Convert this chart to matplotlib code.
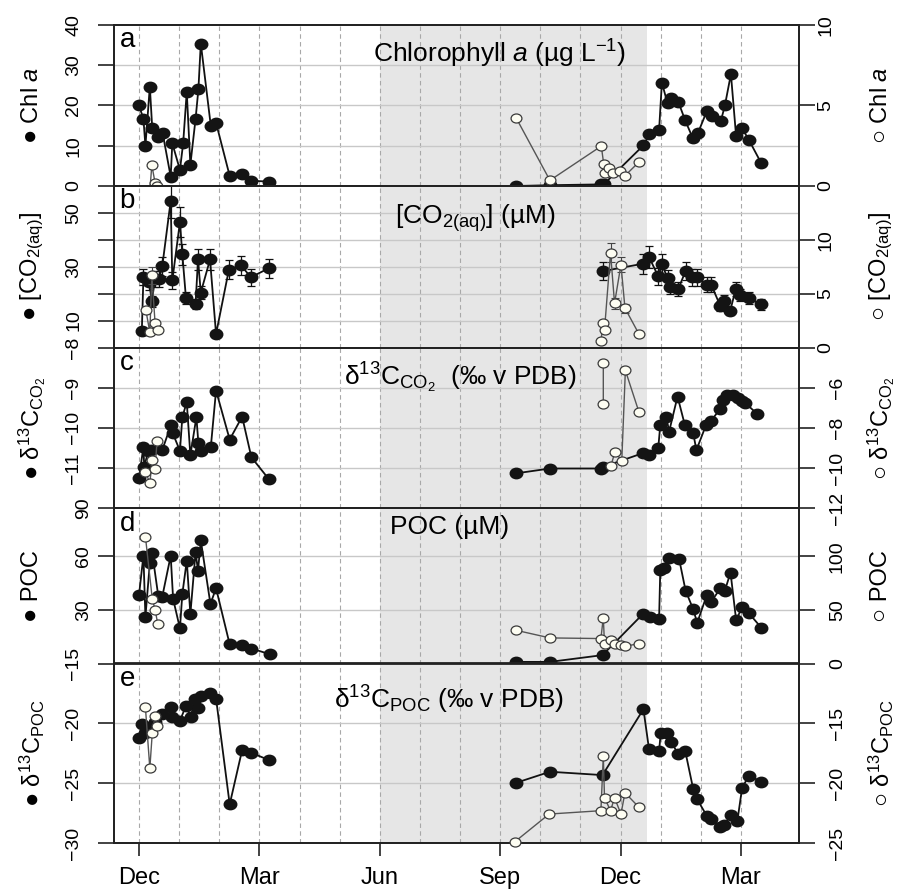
import numpy as np
import matplotlib.pyplot as plt
from matplotlib.path import Path
from matplotlib.transforms import Affine2D

nan = np.nan

plt.rcParams['font.family'] = ['Liberation Sans', 'DejaVu Sans']
plt.rcParams['mathtext.fontset'] = 'custom'
plt.rcParams['mathtext.rm'] = 'Liberation Sans'
plt.rcParams['mathtext.it'] = 'Liberation Sans:italic'
plt.rcParams['mathtext.bf'] = 'Liberation Sans:bold'
plt.rcParams['mathtext.default'] = 'regular'

# time is in months after 1 Dec of the first season
month_ticks = [0, 3, 6, 9, 12, 15]
month_labels = ['Dec', 'Mar', 'Jun', 'Sep', 'Dec', 'Mar']
ice_start, ice_end = 6.0, 12.65

# a: chlorophyll a (filled = left axis, open = right axis)
chl_t = [0.00, 0.11, 0.16, 0.27, 0.33, 0.48, 0.59, 0.79, 0.83, 1.02, 1.10, 1.19, 1.28, 1.41, 1.48,
         1.54, 1.79, 1.92, 2.26, 2.57, 2.80, 3.24, nan,
         9.40, 10.24, 11.52, 11.59, 12.57, 12.72, 12.96, 13.03, 13.17, 13.26, 13.44, 13.61, 13.80,
         13.93, 14.15, 14.29, 14.50, 14.60, 14.75, 14.88, 15.02, 15.20, 15.51]
chl = [20.0, 16.7, 10.0, 24.7, 14.3, 12.1, 13.1, 2.3, 10.6, 4.0, 10.6, 23.4, 5.3, 16.7, 24.0,
       35.4, 14.9, 15.7, 2.5, 2.9, 1.3, 1.1, nan,
       0.0, 0.2, 0.4, 0.5, 10.1, 12.9, 13.9, 25.7, 20.5, 21.9, 20.9, 16.3, 11.9,
       13.2, 18.6, 17.4, 16.2, 20.0, 27.8, 12.3, 14.5, 11.4, 5.6]
chl_o_t = [0.16, 0.27, 0.32, 0.40, 0.46, nan,
           9.40, 10.24, 11.52, 11.58, 11.60, 11.72, 11.82, 11.98, 12.11, 12.46]
chl_o = [-0.25, -0.3, 1.3, 0.2, 0.0, nan,
         4.22, 0.35, 2.48, 1.37, 0.79, 1.1, 0.79, 0.95, 0.64, 1.49]

# b: [CO2(aq)] with error bars
co2_t = [0.07, 0.11, 0.25, 0.32, 0.40, 0.50, 0.58, 0.79, 0.83, 1.02, 1.08, 1.17, 1.41, 1.47, 1.54,
         1.77, 1.92, 2.24, 2.54, 2.79, 3.24, nan,
         11.57, 12.55, 12.71, 12.94, 13.03, 13.17, 13.22, 13.44, 13.62, 13.79, 13.91, 14.15, 14.26,
         14.49, 14.58, 14.73, 14.87, 14.98, 15.19, 15.51]
co2 = [6.0, 26.1, 24.3, 17.2, 25.5, 25.5, 30.2, 54.5, 24.9, 46.6, 34.6, 18.4, 16.2, 32.7, 20.4,
       32.7, 5.0, 28.9, 30.5, 26.1, 29.5, nan,
       28.4, 31.1, 33.6, 26.4, 30.9, 25.8, 22.4, 21.8, 28.4, 26.1, 26.1, 23.3, 23.3,
       15.3, 17.4, 13.5, 21.7, 19.6, 18.3, 16.0]
co2_err = [0.8, 3.0, 3.0, 2.0, 3.0, 3.0, 3.5, 6.5, 3.0, 5.6, 4.0, 2.2, 2.0, 3.9, 2.4,
           3.9, 0.6, 3.5, 3.4, 3.1, 3.5, nan,
           3.3, 3.7, 4.0, 3.2, 3.7, 3.1, 2.7, 2.6, 3.4, 3.1, 3.1, 2.8, 2.8,
           1.8, 2.1, 1.6, 2.6, 2.3, 2.2, 1.9]
co2_o_t = [0.17, 0.27, 0.32, 0.40, 0.47, nan,
           11.51, 11.57, 11.60, 11.75, 11.85, 12.01, 12.11, 12.46]
co2_o = [3.5, 1.4, 6.7, 2.3, 1.6, nan,
         0.62, 2.26, 1.64, 8.8, 4.1, 7.7, 3.65, 1.24]
co2_o_err = [0.4, 0.2, 0.8, 0.3, 0.2, nan,
             0.1, 0.3, 0.2, 0.9, 0.5, 0.7, 0.4, 0.15]

# c: d13C of CO2
dco2_t = [0.00, 0.11, 0.13, 0.23, 0.31, 0.58, 0.80, 0.84, 1.02, 1.08, 1.19, 1.28, 1.43, 1.48, 1.55,
          1.79, 1.92, 2.26, 2.57, 2.80, 3.24, nan,
          9.40, 10.24, 11.51, 11.57, 12.55, 12.71, 12.94, 12.99, 13.14, 13.21, 13.42, 13.60, 13.81,
          13.89, 14.13, 14.25, 14.48, 14.56, 14.66, 14.80, 14.93, 15.03, 15.11, 15.40]
dco2 = [-11.25, -10.47, -10.97, -10.57, -10.55, -10.55, -9.92, -10.13, -10.57, -9.73, -9.36, -10.68,
        -9.73, -10.38, -10.57, -10.47, -9.07, -10.29, -9.72, -10.73, -11.28, nan,
        -11.13, -11.01, -11.01, -10.97, -10.63, -10.68, -10.49, -9.93, -9.73, -10.09, -9.22, -9.92,
        -10.13, -10.55, -9.93, -9.83, -9.53, -9.30, -9.19, -9.17, -9.25, -9.32, -9.38, -9.65]
dco2_o_t = [0.16, 0.27, 0.33, 0.40, 0.45, nan,
            11.57, 11.57, nan, 11.76, 11.86, 12.03, 12.12, 12.46]
dco2_o = [-10.17, -10.75, -9.59, -10.05, -8.64, nan,
          -4.77, -6.8, nan, -9.89, -9.19, -9.64, -5.14, -7.22]

# d: POC
poc_t = [0.00, 0.11, 0.16, 0.27, 0.33, 0.48, 0.58, 0.79, 0.85, 1.02, 1.08, 1.19, 1.28, 1.41, 1.47,
         1.54, 1.78, 1.92, 2.26, 2.57, 2.80, 3.26, nan,
         9.40, 10.24, 11.55, 12.55, 12.74, 12.96, 12.99, 13.08, 13.21, 13.46, 13.62, 13.81, 13.91,
         14.15, 14.26, 14.49, 14.60, 14.74, 14.88, 15.03, 15.20, 15.51]
poc = [38.4, 60.4, 26.2, 56.3, 61.9, 37.9, 37.5, 60.4, 36.2, 19.7, 39.0, 57.6, 27.7, 62.5, 51.9,
       69.0, 33.4, 42.2, 10.7, 10.3, 8.4, 5.2, nan,
       0.9, 0.9, 4.7, 27.6, 25.9, 24.9, 52.5, 53.8, 59.1, 58.5, 40.9, 30.4, 22.8,
       38.4, 34.7, 42.2, 40.9, 51.0, 24.4, 31.5, 28.1, 20.0]
poc_o_t = [0.16, 0.33, 0.40, 0.47, nan,
           9.40, 10.24, 11.51, 11.57, 11.60, 11.75, 11.85, 12.01, 12.11, 12.46]
poc_o = [118.6, 60.6, 50.3, 36.6, nan,
         31.0, 23.9, 23.3, 42.9, 18.0, 21.7, 18.6, 17.1, 16.1, 18.6]

# e: d13C of POC
dpoc_t = [0.00, 0.08, 0.16, 0.27, 0.40, 0.58, 0.80, 0.83, 1.02, 1.17, 1.29, 1.39, 1.48, 1.54,
          1.78, 1.92, 2.26, 2.57, 2.80, 3.24, nan,
          9.40, 10.24, 11.55, 12.57, 12.71, 12.96, 13.00, 13.15, 13.26, 13.44, 13.61, 13.81, 13.91,
          14.15, 14.26, 14.48, 14.59, 14.74, 14.91, 15.03, 15.20, 15.51]
dpoc = [-21.25, -20.06, -20.83, -20.28, -19.86, -19.22, -18.67, -19.5, -19.78, -18.53, -19.45,
        -18.0, -18.75, -17.7, -17.5, -17.92, -26.75, -22.22, -22.45, -23.06, nan,
        -24.95, -24.03, -24.31, -18.81, -22.17, -22.31, -20.83, -20.83, -21.53, -22.58, -22.28,
        -25.47, -26.33, -27.72, -28.0, -28.67, -28.47, -27.64, -28.14, -25.36, -24.36, -24.86]
dpoc_o_t = [0.16, 0.27, 0.33, 0.40, 0.44, nan,
            9.37, 10.22, 11.51, 11.57, 11.60, 11.75, 11.85, 12.01, 12.11, 12.46]
dpoc_o = [-13.67, -18.75, -15.83, -14.39, -15.22, nan,
          -24.86, -22.56, -22.28, -17.73, -21.2, -22.28, -21.2, -22.56, -20.78, -22.0]

# ---- layout (pixel positions of the original) ----
W, H = 907, 889
edges = [25, 186, 347.5, 508.3, 663.5, 843.3]
xl, xr, x_dec = 114, 799, 139
ppm = 40.13  # pixels per month
xlim = ((xl - x_dec) / ppm, (xr - x_dec) / ppm)

oval = Path.unit_circle().transformed(Affine2D().scale(1.2, 1.0))

panels = [
    dict(letter='a', t=chl_t, v=chl, to=chl_o_t, vo=chl_o,
         ylim=(0, 40), yt=[0, 10, 20, 30, 40], ytl=['0', '10', '20', '30', '40'], grid=[10, 20, 30],
         ylim2=(0, 10), yt2=[0, 5, 10], lpad=11.5, rpad=1.5,
         title=r'Chlorophyll $\mathit{a}$ (µg L$^{-1}$)', tx=0.563, ty=0.82,
         lab=r'Chl $\mathit{a}$'),
    dict(letter='b', t=co2_t, v=co2, err=co2_err, to=co2_o_t, vo=co2_o, erro=co2_o_err,
         ylim=(0, 60), yt=[10, 20, 30, 40, 50], ytl=['10', '', '30', '', '50'], grid=[10, 20, 30, 40, 50],
         ylim2=(0, 15), yt2=[0, 5, 10], lpad=11.5, rpad=1.5,
         title=r'[CO$_{2(aq)}$] (µM)', tx=0.527, ty=0.80,
         lab=r'[CO$_{2(aq)}$]'),
    dict(letter='c', t=dco2_t, v=dco2, to=dco2_o_t, vo=dco2_o,
         ylim=(-12, -8), yt=[-11, -10, -9, -8], ytl=['−11', '−10', '−9', '−8'], grid=[-11, -10, -9],
         ylim2=(-12, -4), yt2=[-12, -10, -8, -6], lpad=11.5, rpad=10,
         title=r'δ$^{13}$C$_{CO_2}$  (‰ v PDB)', tx=0.505, ty=0.81,
         lab=r'δ$^{13}$C$_{CO_2}$'),
    dict(letter='d', t=poc_t, v=poc, to=poc_o_t, vo=poc_o,
         ylim=(0, 87), yt=[30, 60, 87], ytl=['30', '60', '90'], grid=[30, 60],
         ylim2=(0, 145), yt2=[0, 50, 100], lpad=4, rpad=10,
         title='POC (µM)', tx=0.49, ty=0.88,
         lab='POC'),
    dict(letter='e', t=dpoc_t, v=dpoc, to=dpoc_o_t, vo=dpoc_o,
         ylim=(-30, -15), yt=[-30, -25, -20, -15], ytl=['−30', '−25', '−20', '−15'], grid=[-25, -20],
         ylim2=(-25, -10), yt2=[-25, -20, -15], lpad=11.5, rpad=10,
         title=r'δ$^{13}$C$_{POC}$ (‰ v PDB)', tx=0.489, ty=0.80,
         lab=r'δ$^{13}$C$_{POC}$'),
]

fig = plt.figure(figsize=(W / 100, H / 100), dpi=100)
spine_col = '#222222'

for i, p in enumerate(panels):
    top, bot = edges[i], edges[i + 1]
    ax = fig.add_axes([xl / W, 1 - bot / H, (xr - xl) / W, (bot - top) / H])
    ax.set_xlim(*xlim)
    ax.set_ylim(*p['ylim'])

    ax.axvspan(ice_start, ice_end, color='#e6e6e6', lw=0, zorder=0)
    for m in range(0, 16):
        ax.axvline(m, color='#a8a8a8', lw=0.8, ls=(0, (4, 3)), zorder=1)
    for g in p['grid']:
        ax.axhline(g, color='#c8c8c8', lw=1.0, zorder=1)

    if 'err' in p:
        ax.errorbar(p['t'], p['v'], yerr=p['err'], fmt='none', ecolor='#111111',
                    elinewidth=0.9, capsize=3, capthick=0.9, zorder=2)
    ax.plot(p['t'], p['v'], color='#111111', lw=1.3, marker=oval, ms=9,
            mfc='#141414', mec='#141414', zorder=3, clip_on=False)

    ax2 = ax.twinx()
    ax2.set_ylim(*p['ylim2'])
    if 'erro' in p:
        ax2.errorbar(p['to'], p['vo'], yerr=p['erro'], fmt='none', ecolor='#444444',
                     elinewidth=0.8, capsize=3, capthick=0.8, zorder=2)
    ax2.plot(p['to'], p['vo'], color='#555555', lw=1.0, marker=oval, ms=7.8,
             mfc='#fdfdf2', mec='#3a3a3a', mew=0.9, zorder=3, clip_on=False)

    for a in (ax, ax2):
        for s in a.spines.values():
            s.set_color(spine_col)
            s.set_linewidth(1.3)

    ax.set_yticks(p['yt'], p['ytl'])
    ax.tick_params(axis='y', direction='out', length=11.5, width=1.2, color=spine_col,
                   labelsize=14, pad=p['lpad'])
    plt.setp(ax.get_yticklabels(), rotation=90, va='center', ha='right')

    ax2.set_yticks(p['yt2'], [str(v).replace('-', '−') for v in p['yt2']])
    ax2.tick_params(axis='y', direction='out', length=11.5, width=1.2, color=spine_col,
                    labelsize=14, pad=p['rpad'])
    plt.setp(ax2.get_yticklabels(), rotation=90, va='center', ha='left')

    if i < len(panels) - 1:
        ax.tick_params(axis='x', bottom=False, labelbottom=False)
    else:
        ax.set_xticks(month_ticks, month_labels)
        ax.tick_params(axis='x', direction='out', length=9, width=1.2, color=spine_col,
                       labelsize=17, pad=8)

    ax.text(0.008, 0.985, p['letter'], transform=ax.transAxes, ha='left', va='top',
            fontsize=20, zorder=5)
    ax.text(p['tx'], p['ty'], p['title'], transform=ax.transAxes, ha='center', va='center',
            fontsize=19, zorder=5)

    yc = 1 - (top + bot) / 2 / H
    fig.text(32 / W, yc, '● ' + p['lab'], rotation=90, ha='center', va='center', fontsize=17)
    fig.text(881 / W, yc, '○ ' + p['lab'], rotation=90, ha='center', va='center', fontsize=17)

fig.savefig('out.png', dpi=100)
